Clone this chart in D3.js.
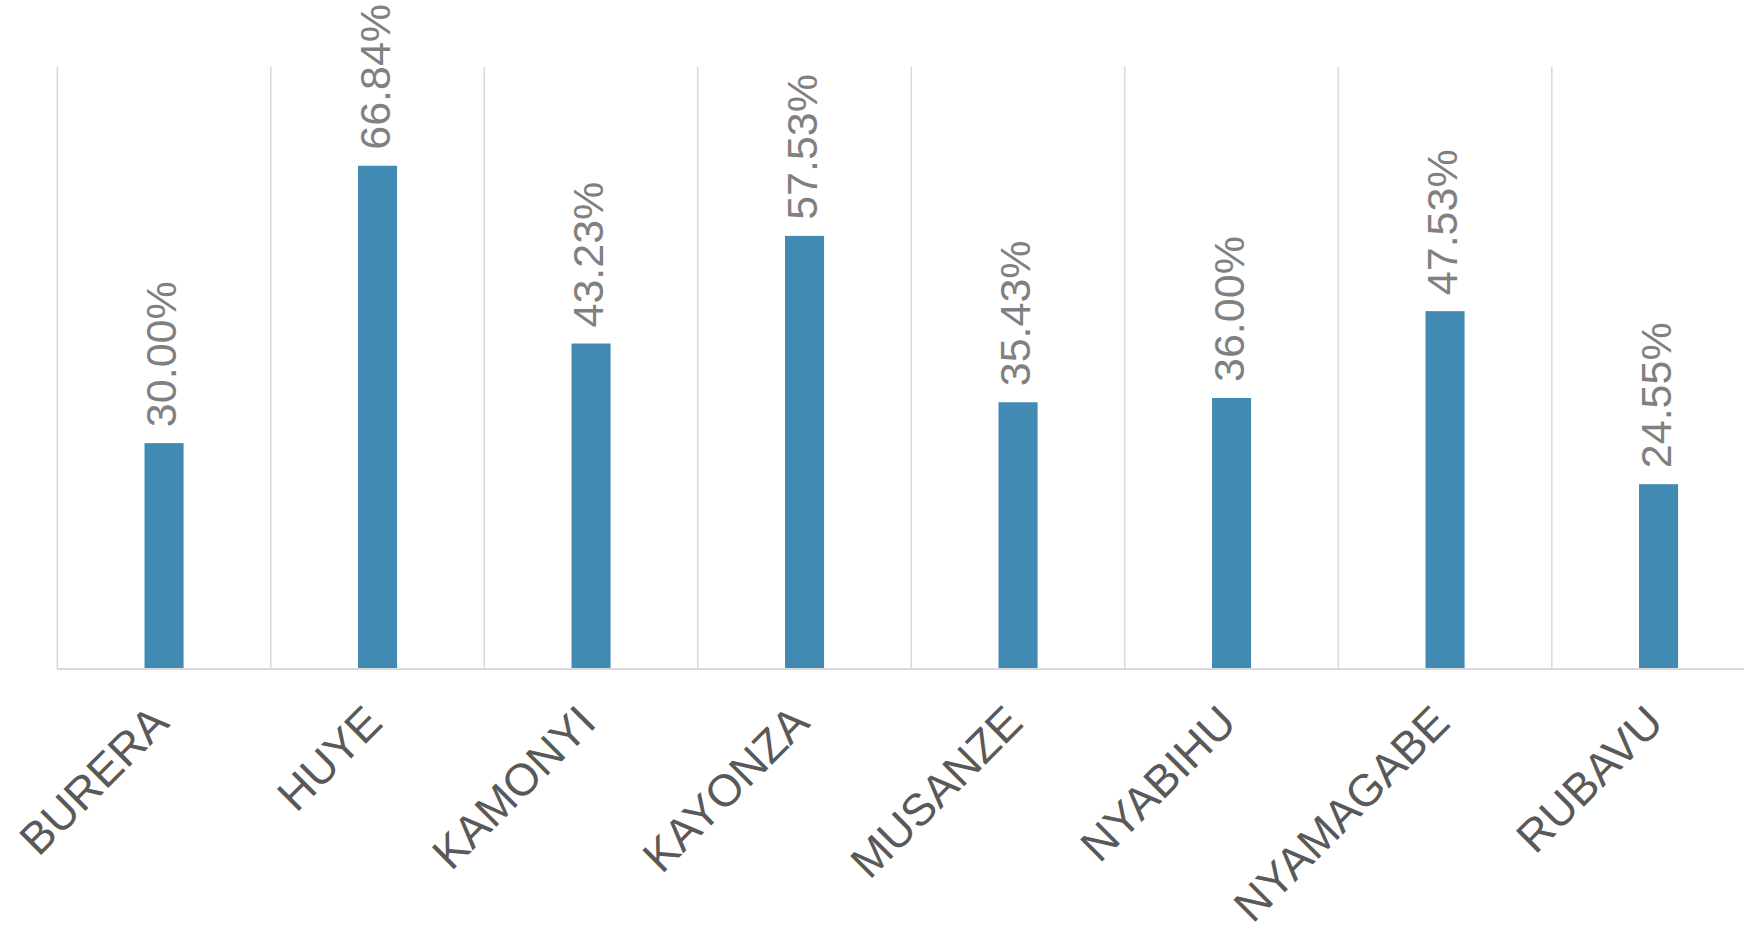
<!DOCTYPE html>
<html>
<head>
<meta charset="utf-8">
<script src="https://cdn.jsdelivr.net/npm/d3@7"></script>
<style>
  html, body { margin: 0; padding: 0; background: #ffffff; }
  svg { display: block; }
</style>
</head>
<body>
<svg id="chart" width="1744" height="929"></svg>
<script>
// District names and their percentages
const categories = ["BURERA", "HUYE", "KAMONYI", "KAYONZA", "MUSANZE", "NYABIHU", "NYAMAGABE", "RUBAVU"];
const values = [30.00, 66.84, 43.23, 57.53, 35.43, 36.00, 47.53, 24.55];
const yDomain = [0, 80];

const svg = d3.select("#chart");

const plot = { left: 57.3, right: 1765.3, top: 66.7, bottom: 669 };

const x = d3.scaleBand()
  .domain(categories)
  .range([plot.left, plot.right])
  .padding(0);

const y = d3.scaleLinear()
  .domain(yDomain)
  .range([plot.bottom, plot.top]);

const barWidth = x.bandwidth() * 0.183;

// Vertical separators between categories
const boundaries = categories.map(c => x(c)).concat([x(categories[categories.length - 1]) + x.bandwidth()]);
svg.append("g")
  .selectAll("line")
  .data(boundaries)
  .join("line")
  .attr("x1", d => d).attr("x2", d => d)
  .attr("y1", y(yDomain[1])).attr("y2", y(0))
  .attr("stroke", "#d9d9d9")
  .attr("stroke-width", 1.5);

// Bars
svg.append("g")
  .selectAll("rect")
  .data(values)
  .join("rect")
  .attr("x", (d, i) => x(categories[i]) + x.bandwidth() / 2 - barWidth / 2)
  .attr("width", barWidth)
  .attr("y", d => y(d))
  .attr("height", d => y(0) - y(d))
  .attr("fill", "#418AB3");

// Category axis line
svg.append("line")
  .attr("x1", plot.left).attr("x2", plot.right)
  .attr("y1", y(0)).attr("y2", y(0))
  .attr("stroke", "#d9d9d9")
  .attr("stroke-width", 2);

// Value labels, rotated
const fmt = d3.format(".2f");
svg.append("g")
  .selectAll("text")
  .data(values)
  .join("text")
  .attr("transform", (d, i) => {
    const cx = x(categories[i]) + x.bandwidth() / 2 + 12;
    return `translate(${cx},${y(d) - 16}) rotate(-90)`;
  })
  .attr("text-anchor", "start")
  .attr("font-family", "Liberation Sans, Arial, sans-serif")
  .attr("font-size", 43)
  .attr("fill", "#808080")
  .text(d => fmt(d) + "%");

// Category labels at 45 degrees
svg.append("g")
  .selectAll("text")
  .data(categories)
  .join("text")
  .attr("transform", d => {
    const cx = x(d) + x.bandwidth() / 2 + 7;
    return `translate(${cx},${y(0) + 56}) rotate(-45)`;
  })
  .attr("text-anchor", "end")
  .attr("font-family", "Liberation Sans, Arial, sans-serif")
  .attr("font-size", 45)
  .attr("fill", "#595959")
  .text(d => d);
</script>
</body>
</html>
